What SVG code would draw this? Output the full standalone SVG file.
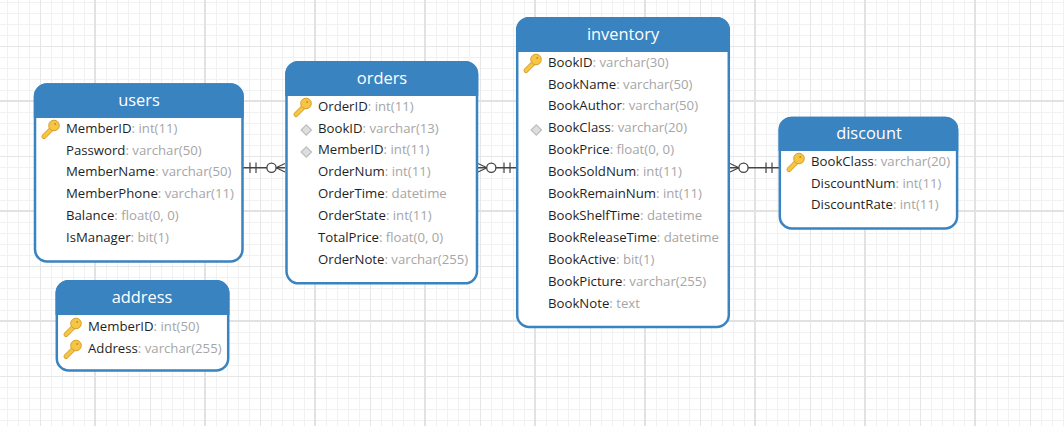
<svg xmlns="http://www.w3.org/2000/svg" width="1064" height="426" viewBox="0 0 1064 426">
<style>
text{font-family:"Open Sans","Noto Sans","Liberation Sans",sans-serif}
.box{fill:#fff;stroke:#3a83c1;stroke-width:2.5}
.head{fill:#3a83c1}
.title{font-size:16.4px;fill:#fff;text-anchor:middle}
.row{font-size:13.2px;fill:#1f1f1f}
.t{fill:#a6a6a6}
.conn{fill:none;stroke:#444;stroke-width:1.2}
.main{stroke-width:1.5}
.circ{fill:#fff;stroke:#444;stroke-width:1.3}
</style>
<defs>
<pattern id="grid" patternUnits="userSpaceOnUse" x="95" y="101" width="110" height="110">
<g fill="none" stroke="#f1f1f1" stroke-width="1">
<path d="M11.5 0V110M22.5 0V110M33.5 0V110M44.5 0V110M66.5 0V110M77.5 0V110M88.5 0V110M99.5 0V110"/>
<path d="M0 11.5H110M0 22.5H110M0 33.5H110M0 44.5H110M0 66.5H110M0 77.5H110M0 88.5H110M0 99.5H110"/>
</g>
<path d="M55.5 0V110M0 55.5H110" stroke="#e6e6e6" stroke-width="1"/>
<path d="M0 0V110M110 0V110M0 0H110M0 110H110" stroke="#e2e2e2" stroke-width="2"/>
</pattern>
<g id="key">
<path d="M-6 10.5L2 2.5" fill="none" stroke="#d69f2a" stroke-width="5" stroke-linecap="round"/>
<path d="M-6 10.5L2 2.5" fill="none" stroke="#f6c544" stroke-width="3.4" stroke-linecap="round"/>
<circle cx="4" cy="-0.5" r="5.3" fill="#f6c544" stroke="#d69f2a" stroke-width="1"/>
<circle cx="5.2" cy="-2" r="1" fill="#c98f1e"/>
</g>
<path id="fk" d="M0 -5.2L5.2 0L0 5.2L-5.2 0Z" fill="#dedede" stroke="#bdbdbd" stroke-width="1.2"/>
</defs>
<rect width="1064" height="426" fill="#fff"/>
<rect width="1064" height="426" fill="url(#grid)"/>

<g id="connectors">
<path class="conn main" d="M243 167.7H285"/>
<path class="conn" d="M250 162.5V173M256 162.5V173M276 167.7L285 163.5M276 167.7L285 172"/>
<circle class="circ" cx="271.5" cy="167.7" r="4.6"/>
<path class="conn main" d="M478 167.7H516"/>
<path class="conn" d="M504 162.5V173M510 162.5V173M487 167.7L478 163.5M487 167.7L478 172"/>
<circle class="circ" cx="491.3" cy="167.7" r="4.6"/>
<path class="conn main" d="M730 167.7H779"/>
<path class="conn" d="M766 162.5V173M772 162.5V173M739 167.7L730 163.5M739 167.7L730 172"/>
<circle class="circ" cx="743.5" cy="167.7" r="4.6"/>
</g>

<g id="users">
<rect class="box" x="35" y="84.5" width="207.5" height="177" rx="12"/>
<path class="head" d="M33.8 118V96.5A13 13 0 0 1 46.8 83.3H230.8A13 13 0 0 1 243.8 96.5V118Z"/>
<text class="title" x="139" y="106">users</text>
<use href="#key" x="50" y="126"/>
<text class="row" x="66" y="133">MemberID<tspan class="t">: int(11)</tspan></text>
<text class="row" x="66" y="155">Password<tspan class="t">: varchar(50)</tspan></text>
<text class="row" x="66" y="176">MemberName<tspan class="t">: varchar(50)</tspan></text>
<text class="row" x="66" y="198">MemberPhone<tspan class="t">: varchar(11)</tspan></text>
<text class="row" x="66" y="220">Balance<tspan class="t">: float(0, 0)</tspan></text>
<text class="row" x="66" y="242">IsManager<tspan class="t">: bit(1)</tspan></text>
</g>

<g id="address">
<rect class="box" x="56.8" y="281.3" width="171.4" height="89.2" rx="12"/>
<path class="head" d="M55.5 315V293A13 13 0 0 1 68.5 280H216.3A13 13 0 0 1 229.5 293V315Z"/>
<text class="title" x="142" y="303">address</text>
<use href="#key" x="72" y="324"/>
<text class="row" x="88" y="330.5">MemberID<tspan class="t">: int(50)</tspan></text>
<use href="#key" x="72" y="346"/>
<text class="row" x="88" y="352.5">Address<tspan class="t">: varchar(255)</tspan></text>
</g>

<g id="orders">
<rect class="box" x="286.5" y="62.3" width="190.5" height="221" rx="12"/>
<path class="head" d="M285.2 96V74A13 13 0 0 1 298.2 61H465.3A13 13 0 0 1 478.3 74V96Z"/>
<text class="title" x="382" y="84">orders</text>
<use href="#key" x="302" y="104"/>
<text class="row" x="318" y="111">OrderID<tspan class="t">: int(11)</tspan></text>
<use href="#fk" x="306.3" y="130"/>
<text class="row" x="318" y="133">BookID<tspan class="t">: varchar(13)</tspan></text>
<use href="#fk" x="306.3" y="152"/>
<text class="row" x="318" y="154">MemberID<tspan class="t">: int(11)</tspan></text>
<text class="row" x="318" y="176">OrderNum<tspan class="t">: int(11)</tspan></text>
<text class="row" x="318" y="198">OrderTime<tspan class="t">: datetime</tspan></text>
<text class="row" x="318" y="220">OrderState<tspan class="t">: int(11)</tspan></text>
<text class="row" x="318" y="242">TotalPrice<tspan class="t">: float(0, 0)</tspan></text>
<text class="row" x="318" y="264">OrderNote<tspan class="t">: varchar(255)</tspan></text>
</g>

<g id="inventory">
<rect class="box" x="517.2" y="18.3" width="211.6" height="308.6" rx="12"/>
<path class="head" d="M516 52V30A13 13 0 0 1 529 17H717A13 13 0 0 1 730 30V52Z"/>
<text class="title" x="623" y="40">inventory</text>
<use href="#key" x="532" y="60"/>
<text class="row" x="548" y="67">BookID<tspan class="t">: varchar(30)</tspan></text>
<text class="row" x="548" y="89">BookName<tspan class="t">: varchar(50)</tspan></text>
<text class="row" x="548" y="110">BookAuthor<tspan class="t">: varchar(50)</tspan></text>
<use href="#fk" x="536.3" y="130"/>
<text class="row" x="548" y="132">BookClass<tspan class="t">: varchar(20)</tspan></text>
<text class="row" x="548" y="154">BookPrice<tspan class="t">: float(0, 0)</tspan></text>
<text class="row" x="548" y="176">BookSoldNum<tspan class="t">: int(11)</tspan></text>
<text class="row" x="548" y="198">BookRemainNum<tspan class="t">: int(11)</tspan></text>
<text class="row" x="548" y="220">BookShelfTime<tspan class="t">: datetime</tspan></text>
<text class="row" x="548" y="242">BookReleaseTime<tspan class="t">: datetime</tspan></text>
<text class="row" x="548" y="264">BookActive<tspan class="t">: bit(1)</tspan></text>
<text class="row" x="548" y="286">BookPicture<tspan class="t">: varchar(255)</tspan></text>
<text class="row" x="548" y="308">BookNote<tspan class="t">: text</tspan></text>
</g>

<g id="discount">
<rect class="box" x="779.8" y="118" width="177.3" height="110.5" rx="12"/>
<path class="head" d="M778.5 151V130A13 13 0 0 1 791.5 116.7H945.3A13 13 0 0 1 958.3 130V151Z"/>
<text class="title" x="869" y="139">discount</text>
<use href="#key" x="795" y="159"/>
<text class="row" x="811" y="166">BookClass<tspan class="t">: varchar(20)</tspan></text>
<text class="row" x="811" y="188">DiscountNum<tspan class="t">: int(11)</tspan></text>
<text class="row" x="811" y="209">DiscountRate<tspan class="t">: int(11)</tspan></text>
</g>
</svg>
